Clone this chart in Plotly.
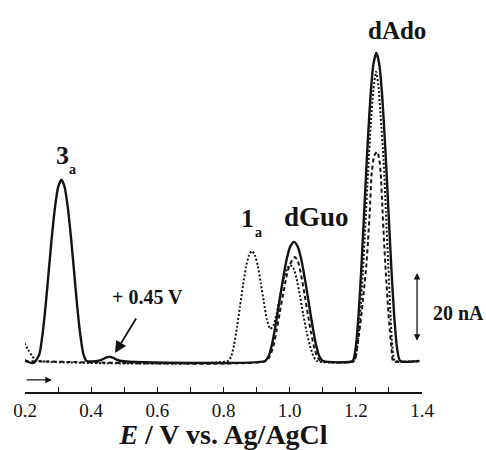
import plotly.graph_objects as go

# potential (V) and current (nA)
solid_x = [0.198, 0.21, 0.22, 0.23,
           0.2435, 0.253, 0.2625, 0.272, 0.2815, 0.291, 0.3005, 0.31,
           0.3195, 0.329, 0.3385, 0.348, 0.3575, 0.367, 0.3765, 0.386,
           0.42, 0.435, 0.445, 0.455, 0.465, 0.475, 0.49,
           0.925, 0.936, 0.947, 0.958, 0.969, 0.980, 0.991, 1.002, 1.013,
           1.024, 1.035, 1.046, 1.057, 1.068, 1.079, 1.090, 1.101,
           1.19, 1.199, 1.208, 1.217, 1.226, 1.235, 1.244, 1.253, 1.262,
           1.271, 1.28, 1.289, 1.298, 1.307, 1.316, 1.325, 1.334, 1.392]
solid_y = [0.3, -0.3, -0.6, -0.3,
           2.0, 7.7, 16.2, 26.3, 36.3, 44.8, 50.5, 52.5,
           50.5, 44.8, 36.3, 26.3, 16.2, 7.7, 2.0, 0,
           0, 0.5, 1.0, 1.2, 1.0, 0.5, 0,
           0, 1.3, 5.0, 10.7, 17.3, 23.8, 29.5, 33.2, 34.5,
           33.2, 29.5, 23.8, 17.3, 10.7, 5.0, 1.3, 0,
           0, 3.4, 13.0, 27.6, 44.7, 61.7, 76.3, 85.9, 89.3,
           85.9, 76.3, 61.7, 44.7, 27.6, 13.0, 3.4, 0, 0]

dot_x = [0.198, 0.21, 0.22, 0.23, 0.24, 0.814,
         0.823, 0.832, 0.841, 0.850, 0.859, 0.868, 0.877, 0.886,
         0.895, 0.904, 0.913, 0.922, 0.931, 0.941, 0.951, 0.961,
         0.971, 0.981, 0.991, 1.001, 1.011, 1.021, 1.031, 1.041,
         1.051, 1.061, 1.071, 1.082, 1.194,
         1.203, 1.212, 1.221, 1.229, 1.237, 1.245, 1.253, 1.261,
         1.268, 1.275, 1.284, 1.291, 1.298, 1.304, 1.309, 1.314, 1.318, 1.392]
dot_y = [5.2, 3.2, 1.6, 0.5, 0, 0,
         1.3, 4.7, 9.9, 15.9, 22.0, 27.2, 30.6, 31.9,
         30.6, 27.4, 22.5, 17.1, 12.1, 9.3, 10.3, 13.9,
         18.9, 23.4, 26.5, 27.8, 27.0, 23.8, 18.9, 13.5,
         8.5, 4.5, 1.6, 0, 0,
         3.2, 12.0, 25.5, 40.0, 55.0, 68.5, 78.5, 83.8,
         80.0, 71.0, 58.0, 43.0, 28.0, 15.0, 6.0, 1.0, 0, 0]

dash_x = [0.198, 0.93, 0.94, 0.95, 0.96, 0.97, 0.98, 0.99, 1.00, 1.016,
          1.025, 1.035, 1.045, 1.055, 1.065, 1.075, 1.085, 1.093, 1.195,
          1.204, 1.214, 1.224, 1.232, 1.237, 1.242, 1.248, 1.256, 1.264,
          1.270, 1.275, 1.280, 1.285, 1.291, 1.297, 1.303, 1.308, 1.313, 1.392]
dash_y = [0, 0, 1.4, 4.0, 8.5, 14.0, 19.3, 24.3, 27.9, 30.1,
          28.8, 24.7, 19.3, 13.5, 8.1, 3.6, 0.9, 0, 0,
          4.0, 11.0, 20.0, 28.0, 35.0, 43.0, 54.5, 59.5, 60.6,
          59.0, 54.5, 45.0, 35.1, 25.0, 16.0, 8.5, 3.5, 0, 0]

tick_vals = [0.2, 0.4, 0.6, 0.8, 1.0, 1.2, 1.4]
tick_text = ["0.2", "0.4", "0.6", "0.8", "1.0", "1.2", "1.4"]

INK = "#141414"
SERIF = "Liberation Serif"

fig = go.Figure()
fig.add_trace(go.Scatter(x=dash_x, y=dash_y, mode="lines",
                         line=dict(color=INK, width=2, dash="4px,3px", shape="spline", smoothing=0.6)))
fig.add_trace(go.Scatter(x=dot_x, y=dot_y, mode="lines",
                         line=dict(color=INK, width=2, dash="2px,2px", shape="spline", smoothing=0.6)))
fig.add_trace(go.Scatter(x=solid_x, y=solid_y, mode="lines",
                         line=dict(color=INK, width=2.4, shape="spline", smoothing=0.6)))

def txt(x, y, s, size, xref="x", **kw):
    fig.add_annotation(x=x, y=y, xref=xref, yref="y", text=s, showarrow=False,
                       font=dict(family=SERIF, size=size, color=INK), **kw)

txt(0.312, 59.4, "<b>3</b>", 26)
txt(0.345, 55.6, "<b>a</b>", 14)
txt(0.874, 41.4, "<b>1</b>", 26)
txt(0.907, 37.1, "<b>a</b>", 14)
txt(1.08, 41.7, "<b>dGuo</b>", 27)
txt(1.3245, 95.7, "<b>dAdo</b>", 25)
txt(0.569, 18.6, "<b>+ 0.45 V</b>", 20)
txt(1.022, 13.9, "<b>20 nA</b>", 20, xref="paper", xanchor="left")

# arrow to the small peak
fig.add_annotation(x=0.472, y=2.3, ax=0.5386, ay=12.75, xref="x", yref="y",
                   axref="x", ayref="y", text="", showarrow=True,
                   arrowhead=2, arrowsize=1.3, arrowwidth=1.8, arrowcolor=INK)
# scan direction arrow
fig.add_annotation(x=0.281, y=-5.5, ax=0.2, ay=-5.5, xref="x", yref="y",
                   axref="x", ayref="y", text="", showarrow=True,
                   arrowhead=2, arrowsize=1, arrowwidth=1.3, arrowcolor=INK)
# 20 nA scale bar
fig.add_annotation(x=1.385, y=25.5, ax=1.385, ay=5.4, xref="x", yref="y",
                   axref="x", ayref="y", text="", showarrow=True,
                   arrowhead=2, startarrowhead=2, arrowside="end+start",
                   arrowsize=1, startarrowsize=1, arrowwidth=1.3, arrowcolor=INK)

fig.update_layout(
    width=486, height=450,
    margin=dict(l=25, r=64, t=10, b=58, autoexpand=False),
    paper_bgcolor="white", plot_bgcolor="white",
    showlegend=False,
    xaxis=dict(range=[0.2, 1.4], showgrid=False, zeroline=False,
               showline=True, linecolor=INK, linewidth=1.5,
               ticks="inside", ticklen=5, tickwidth=1.3, tickcolor=INK,
               tickvals=tick_vals, ticktext=tick_text, ticklabelstandoff=0,
               minor=dict(dtick=0.1, ticks="inside", ticklen=5, tickwidth=1.3, tickcolor=INK),
               tickfont=dict(family=SERIF, size=19, color=INK),
               title=dict(text="<b><i>E</i> / V vs. Ag/AgCl</b>", standoff=7,
                          font=dict(family=SERIF, size=28, color=INK))),
    yaxis=dict(range=[-8.99, 101.7], visible=False),
)

fig.write_html("out.html", config={"displayModeBar": False},
               post_script="document.body.style.margin='0';document.body.style.overflow='hidden';")
